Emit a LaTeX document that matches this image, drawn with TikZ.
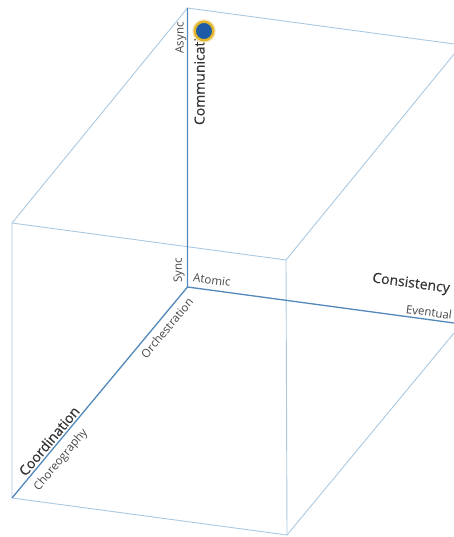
\documentclass[tikz,border=0pt]{standalone}
\usepackage{fontspec}
\setmainfont{Open Sans}
\newfontfamily\semifont[FakeBold=0.3]{Open Sans}
\definecolor{boxblue}{HTML}{A9C9E2}
\definecolor{axisblue}{HTML}{5288BA}
\definecolor{labelgray}{HTML}{333333}
\definecolor{dotblue}{HTML}{1D5BA6}
\definecolor{dotgold}{HTML}{E0B52A}
\begin{document}
\begin{tikzpicture}[x=1pt,y=-1pt,
  edge/.style={draw=boxblue, line width=0.9pt},
  axisline/.style={draw=axisblue, line width=1.3pt},
  biglabel/.style={font=\semifont\fontsize{14}{16}\selectfont, text=labelgray, inner sep=0pt},
  smalllabel/.style={font=\fontsize{11.5}{13}\selectfont, text=labelgray!90, inner sep=0pt}]
\useasboundingbox (0,0) rectangle (454,537);
\clip (0,0) rectangle (454,537);
% corners
\coordinate (O) at (187.5,287);
\coordinate (T) at (187.5,8);
\coordinate (FTL) at (12,223);
\coordinate (FBL) at (12,498);
\coordinate (FTR) at (286,260);
\coordinate (FBR) at (287,535);
\coordinate (BTR) at (461.5,45);
\coordinate (BBR) at (461.5,324);
% box edges
\draw[edge] (FTL) -- (FTR) -- (FBR) -- (FBL) -- cycle;
\draw[edge] (FTL) -- (T) -- (BTR) -- (FTR);
\draw[edge] (FBR) -- (BBR) -- (BTR);
% axes
\draw[axisline] (T) -- (O) -- (BBR);
\draw[axisline] (O) -- (FBL);
% labels
\node[biglabel, rotate=90] (comm) at (199.5,73) {Communication};
\node[smalllabel, rotate=90] (async) at (181,38) {Async};
\node[smalllabel, rotate=90] (sync) at (179,270) {Sync};
\node[smalllabel, rotate=-7.7] (atomic) at (212,280) {Atomic};
\node[biglabel, rotate=-7.7] (cons) at (411,284) {Consistency};
\node[smalllabel, rotate=-7.7] (event) at (429,312) {Eventual};
\node[smalllabel, rotate=50] (orch) at (167,328) {Orchestration};
\node[biglabel, rotate=50] (coord) at (49,441) {Coordination};
\node[smalllabel, rotate=50] (choreo) at (61,460) {Choreography};
% marker
\node[circle, draw=dotgold!35, line width=4.5pt, minimum size=19pt, inner sep=0pt] (glow) at (204,31) {};
\node[circle, fill=dotblue, draw=dotgold, line width=2.3pt, minimum size=18.5pt, inner sep=0pt] (dot) at (204,31) {};
\end{tikzpicture}
\end{document}
